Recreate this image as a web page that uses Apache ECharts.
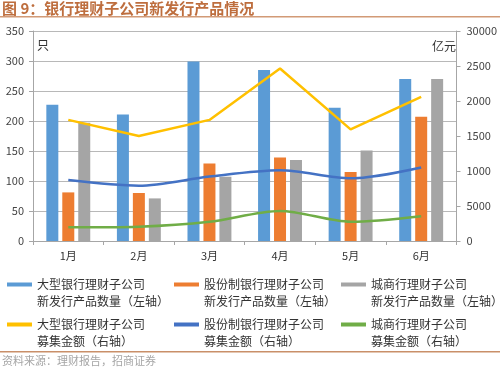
<!DOCTYPE html>
<html><head><meta charset="utf-8">
<script src="https://cdn.jsdelivr.net/npm/echarts@6/dist/echarts.min.js"></script>
<style>html,body{margin:0;padding:0;background:#fff}#c{width:500px;height:369px}</style>
</head><body><div id="c"></div>
<script>
const categories = ['1月','2月','3月','4月','5月','6月'];
const bigBankCount = [227, 211, 299, 285, 222, 270];
const jointBankCount = [81, 80, 129, 139, 115, 207];
const cityBankCount = [197, 71, 107, 135, 151, 270];
const bigBankAmount = [17300, 15000, 17300, 24650, 15950, 20600];
const jointBankAmount = [8700, 7900, 9200, 10100, 8950, 10500];
const cityBankAmount = [1950, 2050, 2750, 4300, 2750, 3550];
const leftTicks = [0, 50, 100, 150, 200, 250, 300, 350];
const rightTickLabels = ['0', '5000', '1000', '1500', '2000', '2500', '30000'];
const names = [
  '大型银行理财子公司\n新发行产品数量（左轴）',
  '股份制银行理财子公司\n新发行产品数量（左轴）',
  '城商行理财子公司\n新发行产品数量（左轴）',
  '大型银行理财子公司\n募集金额（右轴）',
  '股份制银行理财子公司\n募集金额（右轴）',
  '城商行理财子公司\n募集金额（右轴）'
];
const colors = ['#5B9BD5', '#ED7D31', '#A5A5A5', '#FFC000', '#4472C4', '#70AD47'];
const font = '"Noto Sans CJK SC", "Noto Sans", sans-serif';

const chart = echarts.init(document.getElementById('c'), null, {renderer: 'canvas'});
const topIcon = 'path://M0,0L25,0L25,4L0,4Z M0,21L0.01,21L0.01,21.01L0,21.01Z';
const legendPos = [[7, 276], [174, 276], [341, 276], [7, 316], [174, 316], [341, 316]];
const legends = names.map((n, i) => ({
  data: [{name: n, icon: topIcon}],
  left: legendPos[i][0], top: legendPos[i][1],
  itemWidth: 25, itemHeight: 21, itemGap: 0, padding: 0,
  selectedMode: false,
  textStyle: {fontSize: 12, color: '#333', lineHeight: 17, fontFamily: font}
}));
const option = {
  animation: false,
  color: colors,
  graphic: [
    {type: 'text', left: 2, top: 1, style: {text: '图 9：银行理财子公司新发行产品情况', fill: '#BE6E3E', font: 'bold 15px ' + font}},
    {type: 'rect', left: 0, top: 16, shape: {width: 500, height: 1.5}, style: {fill: '#D29A76'}},
    {type: 'text', left: 37, top: 39, style: {text: '只', fill: '#333', font: '12px ' + font}},
    {type: 'text', right: 44, top: 40, style: {text: '亿元', fill: '#333', font: '12px ' + font}},
    {type: 'rect', left: 0, top: 351, shape: {width: 500, height: 1.5}, style: {fill: '#C98F69'}},
    {type: 'text', left: 2, top: 355, style: {text: '资料来源：理财报告，招商证券', fill: '#A6A6A6', font: '11px ' + font}}
  ],
  legend: legends,
  grid: {left: 33, right: 38, top: 31, bottom: 128},
  xAxis: {
    type: 'category', data: categories,
    axisLine: {lineStyle: {color: '#A6A6A6'}},
    axisTick: {show: true, length: 4, lineStyle: {color: '#A6A6A6'}},
    axisLabel: {color: '#333', fontSize: 11, margin: 9, fontFamily: font}
  },
  yAxis: [
    {type: 'value', min: 0, max: 350, interval: 50, position: 'left',
     axisLine: {show: true, lineStyle: {color: '#A6A6A6'}},
     axisTick: {show: true, length: 4, lineStyle: {color: '#A6A6A6'}},
     axisLabel: {color: '#444', fontSize: 11, margin: 9, fontFamily: font},
     splitLine: {lineStyle: {color: '#B8B8B8'}}},
    {type: 'value', min: 0, max: 30000, interval: 5000, position: 'right',
     axisLine: {show: true, lineStyle: {color: '#A6A6A6'}},
     axisTick: {show: true, length: 4, lineStyle: {color: '#A6A6A6'}},
     axisLabel: {color: '#444', fontSize: 11, margin: 10, fontFamily: font,
       formatter: v => rightTickLabels[Math.round(v / 5000)]},
     splitLine: {show: false}}
  ],
  series: [
    {name: names[0], type: 'bar', data: bigBankCount, barWidth: 12, barGap: '33%', yAxisIndex: 0},
    {name: names[1], type: 'bar', data: jointBankCount, barWidth: 12, barGap: '33%', yAxisIndex: 0},
    {name: names[2], type: 'bar', data: cityBankCount, barWidth: 12, barGap: '33%', yAxisIndex: 0},
    {name: names[3], type: 'line', data: bigBankAmount, yAxisIndex: 1, showSymbol: false, lineStyle: {width: 2.5}},
    {name: names[4], type: 'line', data: jointBankAmount, yAxisIndex: 1, showSymbol: false, smooth: 0.3, lineStyle: {width: 2.5}},
    {name: names[5], type: 'line', data: cityBankAmount, yAxisIndex: 1, showSymbol: false, smooth: 0.3, lineStyle: {width: 2.5}}
  ]
};
chart.setOption(option);
</script></body></html>
